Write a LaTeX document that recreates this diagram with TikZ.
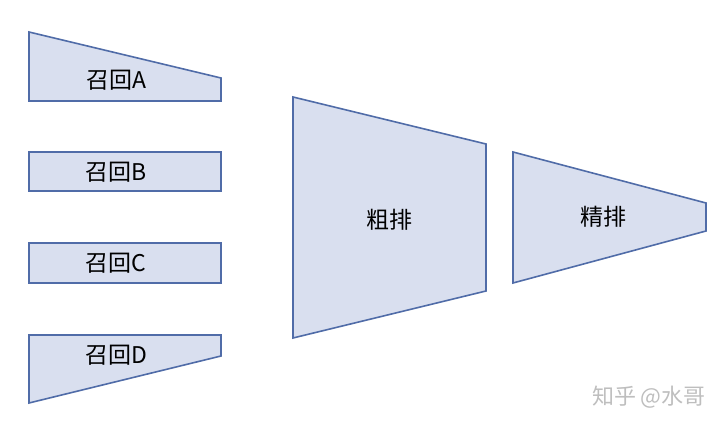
\documentclass[tikz,border=0pt]{standalone}
\usepackage{fontspec}
\setmainfont{Noto Sans CJK SC}
\usepackage{tikz}
\usetikzlibrary{positioning,calc}
\definecolor{stageFill}{RGB}{217,223,239}
\definecolor{stageLine}{RGB}{80,108,168}
\definecolor{markGray}{RGB}{190,190,190}

\begin{document}
\begin{tikzpicture}[x=1pt,y=-1pt,stage/.style={draw=stageLine,fill=stageFill,line width=1.6pt,line join=miter},stagetext/.style={font=\fontsize{23}{27}\selectfont,text=black,inner sep=0pt}]
        \useasboundingbox (0,0) rectangle (721,427);
        % recall stages
        \draw [stage] (29,32) -- (221,78) -- (221,101) -- (29,101) -- cycle;
        \draw [stage] (29,152) rectangle (221,191);
        \draw [stage] (29,243) rectangle (221,283);
        \draw [stage] (29,335) -- (221,335) -- (221,356) -- (29,403) -- cycle;
        \node [stagetext] (recallA) at (116,80) {召回A};
        \node [stagetext] (recallB) at (116,172) {召回B};
        \node [stagetext] (recallC) at (116,263) {召回C};
        \node [stagetext] (recallD) at (116,355) {召回D};
        % ranking stages
        \draw [stage] (293,97) -- (486,144) -- (486,291) -- (293,338) -- cycle;
        \draw [stage] (513,152) -- (706,203) -- (706,231) -- (513,283) -- cycle;
        \node [stagetext] (coarse) at (389,220) {粗排};
        \node [stagetext] (fine) at (603,217) {精排};
        \node [font=\fontsize{22}{26}\selectfont,text=markGray,anchor=east,inner sep=0pt] (mark) at (706,397) {知乎 @水哥};
\end{tikzpicture}
\end{document}
